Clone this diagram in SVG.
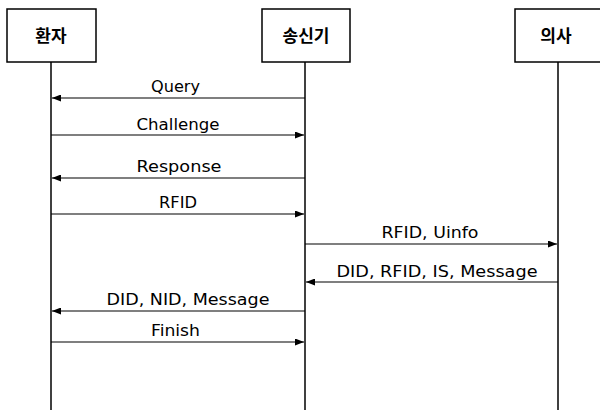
<svg xmlns="http://www.w3.org/2000/svg" width="600" height="410" viewBox="0 0 600 410">
<style>
.box{fill:#fff;stroke:#000;stroke-width:1.5}
.life{stroke:#000;stroke-width:1.5}
.msg{stroke:#000;stroke-width:1.2;fill:none}
.lbl{font-family:"DejaVu Sans","Liberation Sans",sans-serif;font-size:15px;fill:#000;text-anchor:middle}
.hdr{font-family:"Noto Sans CJK KR",sans-serif;font-size:17px;font-weight:bold;fill:#000;text-anchor:middle}
</style>
<defs>
<marker id="ah" markerWidth="9" markerHeight="7" refX="9" refY="3.5" orient="auto" markerUnits="userSpaceOnUse">
<path d="M0,0 L9,3.5 L0,7 z" fill="#000"/>
</marker>
</defs>
<g id="patient">
<rect class="box" x="7" y="9" width="89" height="53"/>
<text class="hdr" x="51" y="42">환자</text>
<line class="life" x1="51" y1="62" x2="51" y2="410"/>
</g>
<g id="transmitter">
<rect class="box" x="262" y="9" width="88" height="53"/>
<text class="hdr" x="306" y="42">송신기</text>
<line class="life" x1="305" y1="62" x2="305" y2="410"/>
</g>
<g id="doctor">
<rect class="box" x="515" y="9" width="90" height="53"/>
<text class="hdr" x="556" y="42">의사</text>
<line class="life" x1="558" y1="62" x2="558" y2="410"/>
</g>
<g id="connectors">
<line class="msg" x1="305" y1="98" x2="52" y2="98" marker-end="url(#ah)"/>
<text class="lbl" x="175.5" y="92" textLength="49" lengthAdjust="spacingAndGlyphs">Query</text>
<line class="msg" x1="51" y1="135" x2="304" y2="135" marker-end="url(#ah)"/>
<text class="lbl" x="178" y="130" textLength="83" lengthAdjust="spacingAndGlyphs">Challenge</text>
<line class="msg" x1="305" y1="178" x2="52" y2="178" marker-end="url(#ah)"/>
<text class="lbl" x="179" y="172" textLength="85" lengthAdjust="spacingAndGlyphs">Response</text>
<line class="msg" x1="51" y1="214" x2="304" y2="214" marker-end="url(#ah)"/>
<text class="lbl" x="178" y="208" textLength="38" lengthAdjust="spacingAndGlyphs">RFID</text>
<line class="msg" x1="305" y1="244" x2="557" y2="244" marker-end="url(#ah)"/>
<text class="lbl" x="430" y="238" textLength="97" lengthAdjust="spacingAndGlyphs">RFID, Uinfo</text>
<line class="msg" x1="558" y1="282" x2="306" y2="282" marker-end="url(#ah)"/>
<text class="lbl" x="437" y="277" textLength="201" lengthAdjust="spacingAndGlyphs">DID, RFID, IS, Message</text>
<line class="msg" x1="305" y1="311" x2="52" y2="311" marker-end="url(#ah)"/>
<text class="lbl" x="188" y="305" textLength="163" lengthAdjust="spacingAndGlyphs">DID, NID, Message</text>
<line class="msg" x1="51" y1="342" x2="304" y2="342" marker-end="url(#ah)"/>
<text class="lbl" x="175.5" y="336" textLength="49" lengthAdjust="spacingAndGlyphs">Finish</text>
</g>
</svg>
